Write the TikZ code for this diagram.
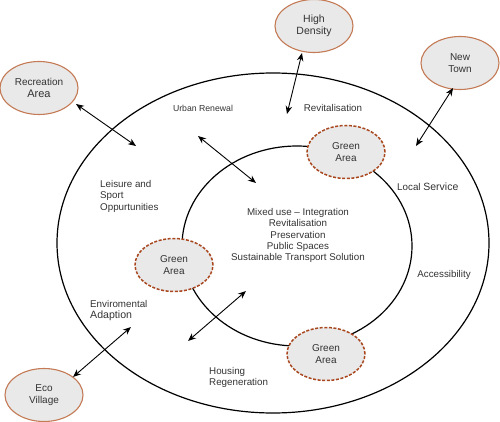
\documentclass[tikz,border=0pt]{standalone}
\usepackage{fontspec}
\setmainfont{Liberation Sans}
\usetikzlibrary{arrows.meta,shapes.geometric}
\definecolor{txt}{HTML}{333333}
\definecolor{fillg}{HTML}{E9E9E9}
\definecolor{solidb}{HTML}{C47A55}
\definecolor{dashb}{HTML}{A8471E}
\newcommand{\fs}[1]{\fontsize{#1}{#1}\selectfont}
\tikzset{
  x=1pt, y=-1pt,
  place/.style={ellipse, draw=solidb, line width=1.1pt, fill=fillg, minimum width=78pt, minimum height=53pt, inner sep=0pt, align=center, text=txt, font=\fs{10}, execute at begin node=\setlength{\baselineskip}{12.5pt}},
  green/.style={place, draw=dashb, line width=1.5pt, dash pattern=on 3pt off 1.6pt},
  lbl/.style={text=txt, font=\fs{9.8}, inner sep=0pt, execute at begin node=\setlength{\baselineskip}{11.4pt}},
  ring/.style={ellipse, draw=black, line width=1.2pt, inner sep=0pt},
  dbl/.style={{Stealth[length=8pt,width=6.5pt]}-{Stealth[length=8pt,width=6.5pt]}, line width=0.9pt, black}
}
\begin{document}
\begin{tikzpicture}
\useasboundingbox (0,0) rectangle (500,422);
% rings
\node[ring, minimum width=432pt, minimum height=340pt] (outer) at (273,243) {};
\node[ring, minimum width=230pt, minimum height=200pt] (inner) at (297,246) {};
% green areas
\node[green] (g1) at (346,152) {Green\\Area};
\node[green] (g2) at (174,265) {Green\\Area};
\node[green] (g3) at (326,354) {Green\\Area};
% outer places
\node[place] (rec) at (39,88) {Recreation\\{\fs{11}Area}};
\node[place] (high) at (314,26) {\fs{10.5}High\\\fs{10.5}Density};
\node[place] (new) at (460,63) {New\\Town};
\node[place] (eco) at (44,395) {Eco\\Village};
% labels
\node[lbl, font=\fs{8.7}] (ur) at (203,108) {Urban Renewal};
\node[lbl] (rev) at (333,108) {Revitalisation};
\node[lbl, anchor=west] (ls) at (397,187) {Local {\fs{10.5}Service}};
\node[lbl] (acc) at (444,275) {Accessibility};
\node[lbl, anchor=north west, align=left] (leis) at (100,180) {Leisure and\\Sport\\Oppurtunities};
\node[lbl, anchor=north west, align=left] (env) at (90,300) {Enviromental\\{\fs{10.6}Adaption}};
\node[lbl, anchor=north west, align=left] (hous) at (209,367) {Housing\\Regeneration};
\node[lbl, align=center] (mix) at (298,235.5) {Mixed use -- Integration\\Revitalisation\\Preservation\\Public Spaces\\Sustainable Transport Solution};
% arrow ends
\coordinate (a1) at (76,104);  \coordinate (b1) at (136,146);
\coordinate (a2) at (198,136); \coordinate (b2) at (256,183);
\coordinate (a3) at (302,53);  \coordinate (b3) at (287,114);
\coordinate (a4) at (453,88);  \coordinate (b4) at (416,146);
\coordinate (a5) at (73,377);  \coordinate (b5) at (131,327);
\coordinate (a6) at (188,341); \coordinate (b6) at (246,291);
\draw[dbl] (a1) -- (b1);
\draw[dbl] (a2) -- (b2);
\draw[dbl] (a3) -- (b3);
\draw[dbl] (a4) -- (b4);
\draw[dbl] (a5) -- (b5);
\draw[dbl] (a6) -- (b6);
\end{tikzpicture}
\end{document}
